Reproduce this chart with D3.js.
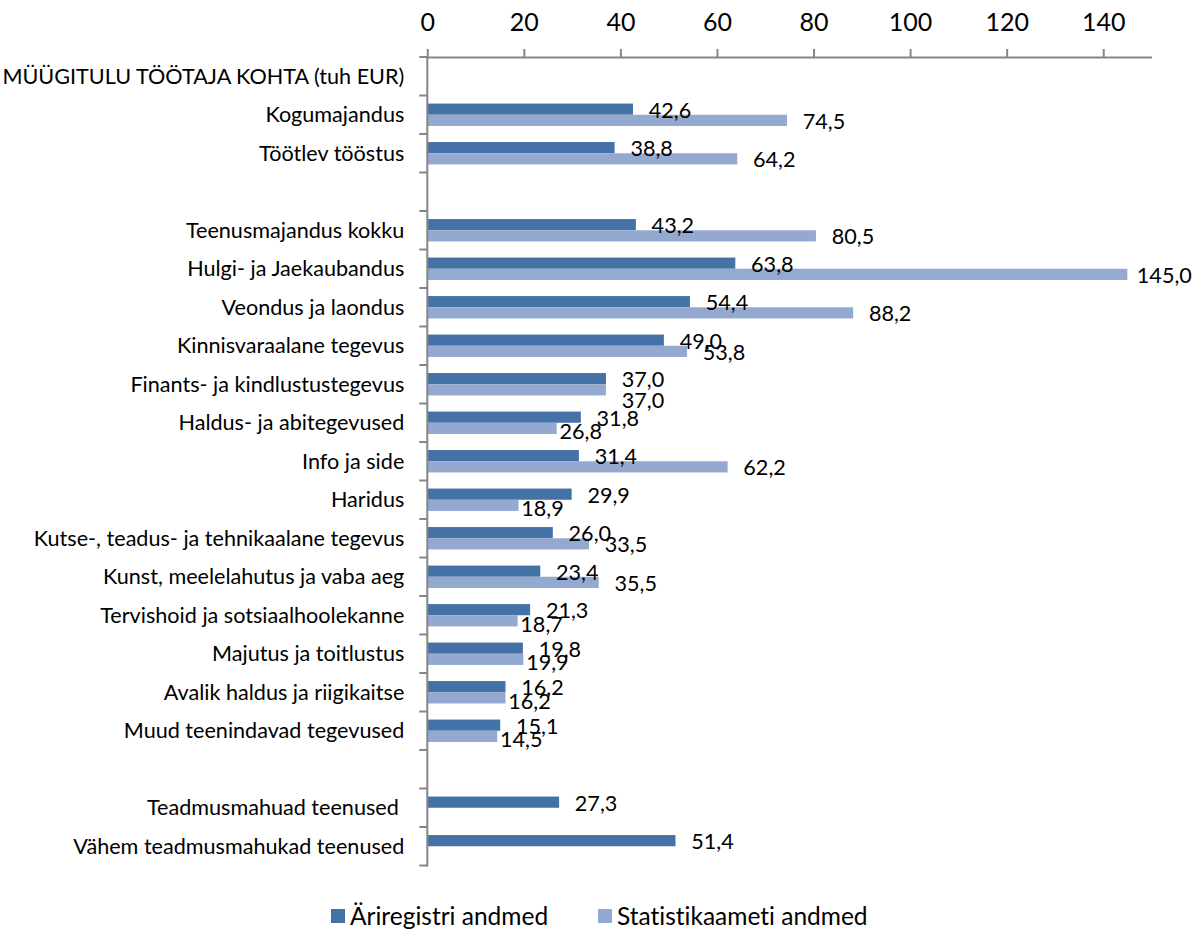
<!DOCTYPE html>
<html>
<head>
<meta charset="utf-8">
<script src="https://cdn.jsdelivr.net/npm/d3@7"></script>
<style>
  body { margin: 0; background: #fff; }
  svg text { font-family: Lato, "Noto Sans", sans-serif; fill: #000; font-variant-ligatures: none; }
</style>
</head>
<body>
<div id="box"></div>
<script>
'use strict';

// categories top to bottom ("" = empty spacer row)
var categories = [
  "MÜÜGITULU TÖÖTAJA KOHTA (tuh EUR)",
  "Kogumajandus",
  "Töötlev tööstus",
  "",
  "Teenusmajandus kokku",
  "Hulgi- ja Jaekaubandus",
  "Veondus ja laondus",
  "Kinnisvaraalane tegevus",
  "Finants- ja kindlustustegevus",
  "Haldus- ja abitegevused",
  "Info ja side",
  "Haridus",
  "Kutse-, teadus- ja tehnikaalane tegevus",
  "Kunst, meelelahutus ja vaba aeg",
  "Tervishoid ja sotsiaalhoolekanne",
  "Majutus ja toitlustus",
  "Avalik haldus ja riigikaitse",
  "Muud teenindavad tegevused",
  "",
  "Teadmusmahuad teenused ",
  "Vähem teadmusmahukad teenused"
];
var ariregister = [null, 42.6, 38.8, null, 43.2, 63.8, 54.4, 49.0, 37.0, 31.8, 31.4, 29.9, 26.0, 23.4, 21.3, 19.8, 16.2, 15.1, null, 27.3, 51.4];
var statistikaamet = [null, 74.5, 64.2, null, 80.5, 145.0, 88.2, 53.8, 37.0, 26.8, 62.2, 18.9, 33.5, 35.5, 18.7, 19.9, 16.2, 14.5, null, null, null];
var seriesNames = ["Äriregistri andmed", "Statistikaameti andmed"];
var xTicks = [0, 20, 40, 60, 80, 100, 120, 140];

var colors = ["#4472a6", "#94a9d0"];
var width = 1201, height = 929;
var margin = {top: 57, left: 427.3, right: 49.5, bottom: 63.5};
var plotW = width - margin.left - margin.right;
var plotH = height - margin.top - margin.bottom;

var svg = d3.select("#box")
  .append("svg")
    .attr("width", width)
    .attr("height", height);

var g = svg.append("g")
  .attr("transform", "translate(" + margin.left + "," + margin.top + ")");

var x = d3.scaleLinear()
  .domain([0, 150])
  .range([0, plotW]);

var y = d3.scaleBand()
  .domain(d3.range(categories.length))
  .range([0, plotH]);

var ySub = d3.scaleBand()
  .domain([0, 1])
  .range([0, y.bandwidth()])
  .paddingOuter(0.72);

var fmt = function(v) { return v.toFixed(1).replace(".", ","); };

// bars
var series = [ariregister, statistikaamet];
series.forEach(function(vals, s) {
  g.append("g").selectAll("rect")
    .data(vals.map(function(v, i) { return {v: v, i: i}; }).filter(function(d) { return d.v != null; }))
    .enter().append("rect")
      .attr("x", 0)
      .attr("y", function(d) { return y(d.i) + ySub(s); })
      .attr("width", function(d) { return x(d.v); })
      .attr("height", ySub.bandwidth())
      .attr("fill", colors[s]);
});

// x axis on top
var xAxis = g.append("g")
  .call(d3.axisTop(x).tickValues(xTicks).tickSize(8).tickPadding(18).tickSizeOuter(0));
xAxis.select(".domain").attr("stroke", "#868686").attr("stroke-width", 2);
xAxis.selectAll(".tick line").attr("stroke", "#868686").attr("stroke-width", 2);
xAxis.selectAll(".tick text").style("font-size", "25px").attr("fill", "#000");

// y axis line + boundary ticks
g.append("line")
  .attr("x1", 0).attr("x2", 0)
  .attr("y1", 0).attr("y2", plotH + 1)
  .attr("stroke", "#868686").attr("stroke-width", 2);
g.append("g").selectAll("line")
  .data(d3.range(categories.length + 1))
  .enter().append("line")
    .attr("x1", -8).attr("x2", 0)
    .attr("y1", function(i) { return i * y.step(); })
    .attr("y2", function(i) { return i * y.step(); })
    .attr("stroke", "#868686").attr("stroke-width", 2);

// category labels
g.append("g").selectAll("text")
  .data(categories)
  .enter().append("text")
    .attr("x", -23)
    .attr("y", function(d, i) { return y(i) + y.bandwidth() / 2; })
    .attr("dy", "0.35em")
    .attr("text-anchor", "end")
    .style("font-size", "21.6px")
    .style("white-space", "pre")
    .text(function(d) { return d; });

// value labels (light labels slide left when they sit under a longer dark bar)
var labelY = [];
series.forEach(function(vals, s) {
  vals.forEach(function(v, i) {
    if (v == null) return;
    var cx = x(v) + 37;
    var cy = y(i) + ySub(s) + ySub.bandwidth() / 2 + 1;
    if (s === 1 && ariregister[i] != null) {
      if (Math.abs(v - ariregister[i]) < 0.01 && v > 30) {
        cy = labelY[i] + 21;
      } else if (v <= ariregister[i] + 0.2) {
        cx = x(v) + 24;
        cy += 2.5;
      }
    }
    if (s === 0) labelY[i] = cy;
    g.append("text")
      .attr("x", cx)
      .attr("y", cy)
      .attr("dy", "0.35em")
      .attr("text-anchor", "middle")
      .style("font-size", "21.6px")
      .text(fmt(v));
  });
});

// legend
var legend = svg.append("g").attr("transform", "translate(0,916)");
var legX = [331, 598];
seriesNames.forEach(function(name, s) {
  legend.append("rect")
    .attr("x", legX[s]).attr("y", -7)
    .attr("width", 14).attr("height", 14)
    .attr("fill", colors[s]);
  legend.append("text")
    .attr("x", legX[s] + 19)
    .attr("y", 0)
    .attr("dy", "0.35em")
    .style("font-size", "24.5px")
    .text(name);
});
</script>
</body>
</html>
